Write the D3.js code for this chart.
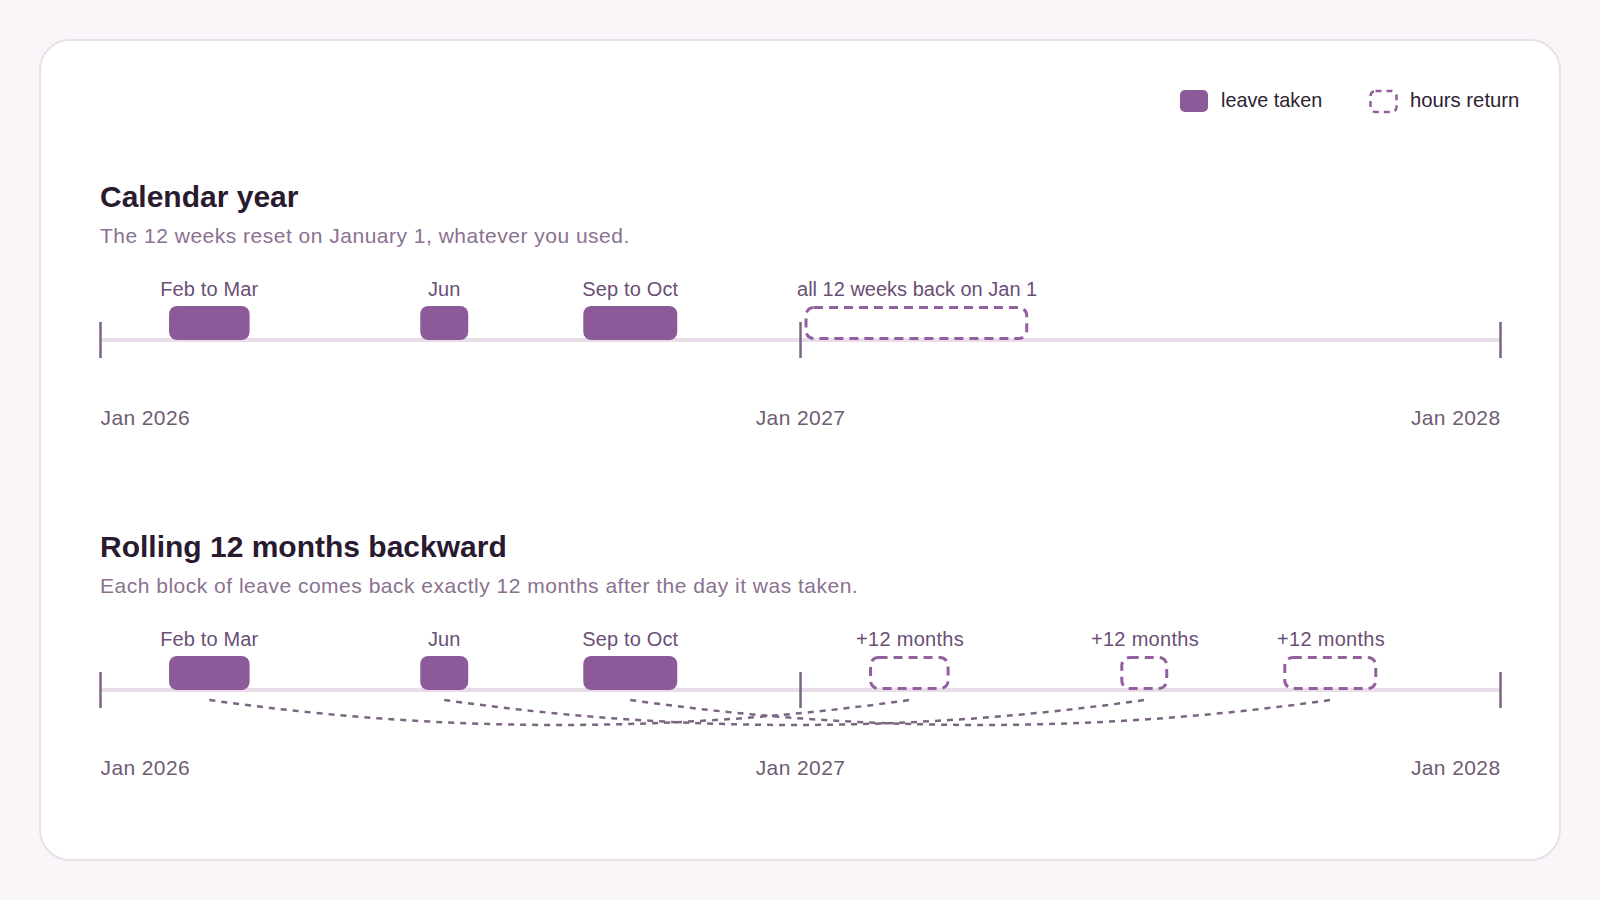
<!DOCTYPE html>
<html lang="en">
<head>
<meta charset="UTF-8">
<title>Leave return: calendar year vs rolling 12 months</title>
<script src="https://d3js.org/d3.v7.min.js"></script>
<style>
  body {
    margin: 0;
    background: #faf5f9;
    font-family: "Helvetica Neue", Helvetica, "Liberation Sans", Arial, sans-serif;
  }
  svg { display: block; }
</style>
</head>
<body>
<div id="wrapper"></div>
<script>
// ---- data ----
const leaveLabels = ["Feb to Mar", "Jun", "Sep to Oct"];
const leaveStart  = ["2026-02-06", "2026-06-17", "2026-09-10"];
const leaveEnd    = ["2026-03-20", "2026-07-12", "2026-10-29"];

const calendarReturnStart = "2027-01-01";
const calendarReturnEnd   = "2027-04-30";
const calendarReturnLabel = "all 12 weeks back on Jan 1";
const rollingReturnLabel  = "+12 months";

const axisTickDates = ["2026-01-01", "2027-01-01", "2028-01-01"];
const axisTickLabels = ["Jan 2026", "Jan 2027", "Jan 2028"];

const panelTitles = ["Calendar year", "Rolling 12 months backward"];
const panelSubtitles = [
  "The 12 weeks reset on January 1, whatever you used.",
  "Each block of leave comes back exactly 12 months after the day it was taken."
];
const legendLabels = ["leave taken", "hours return"];

// ---- look ----
const colors = {
  bar: "#8c5a99",
  dash: "#93609f",
  link: "#7a6680",
  axis: "#e8dde9",
  tick: "#7b6483",
  title: "#2a1a2f",
  subtitle: "#8a7190",
  label: "#6a4f75",
  tickLabel: "#6e5c74",
  legend: "#2e2233"
};

const parse = d3.timeParse("%Y-%m-%d");

const width = 1600, height = 900;
const panelTop = [0, 350];    // vertical offset of each panel
const axisY = 340;            // axis baseline within a panel
const barH = 34;

const svg = d3.select("#wrapper").append("svg")
  .attr("width", width)
  .attr("height", height);

// card
svg.append("rect")
  .attr("x", 40).attr("y", 40)
  .attr("width", 1520).attr("height", 820)
  .attr("rx", 30)
  .attr("fill", "#ffffff")
  .attr("stroke", "#e8e0e9")
  .attr("stroke-width", 2);

const xScale = d3.scaleTime()
  .domain([parse(axisTickDates[0]), parse(axisTickDates[axisTickDates.length - 1])])
  .range([100, 1500]);

const leaves = leaveLabels.map((label, i) => ({
  label,
  start: parse(leaveStart[i]),
  end: parse(leaveEnd[i])
}));

// legend
const legend = svg.append("g").attr("transform", "translate(1180,90)");
legend.append("rect")
  .attr("width", 28).attr("height", 22).attr("rx", 5)
  .attr("fill", colors.bar);
legend.append("text")
  .attr("x", 41).attr("y", 17)
  .attr("fill", colors.legend)
  .style("font-size", "19.8px")
  .text(legendLabels[0]);
legend.append("rect")
  .attr("x", 190.5).attr("y", 1)
  .attr("width", 26).attr("height", 21).attr("rx", 5)
  .attr("fill", "none")
  .attr("stroke", colors.dash)
  .attr("stroke-width", 2.5)
  .attr("stroke-dasharray", "6 5");
legend.append("text")
  .attr("x", 230).attr("y", 17)
  .attr("fill", colors.legend)
  .style("font-size", "20.3px")
  .text(legendLabels[1]);

function drawPanel(idx) {
  const g = svg.append("g").attr("transform", `translate(0,${panelTop[idx]})`);

  g.append("text")
    .attr("x", 100).attr("y", 207)
    .attr("fill", colors.title)
    .style("font-size", "30px")
    .style("font-weight", "700")
    .text(panelTitles[idx]);

  g.append("text")
    .attr("x", 100).attr("y", 243)
    .attr("fill", colors.subtitle)
    .style("font-size", "21px")
    .style("letter-spacing", "0.5px")
    .text(panelSubtitles[idx]);

  // baseline
  g.append("line")
    .attr("x1", xScale.range()[0]).attr("x2", xScale.range()[1])
    .attr("y1", axisY).attr("y2", axisY)
    .attr("stroke", colors.axis)
    .attr("stroke-width", 4);

  // ticks + labels
  const axisGen = d3.axisBottom(xScale)
    .tickValues(axisTickDates.map(parse))
    .tickFormat((d, i) => axisTickLabels[i])
    .tickSize(36)
    .tickPadding(52);
  const axis = g.append("g")
    .attr("transform", `translate(0,${axisY - 18})`)
    .call(axisGen);
  axis.select(".domain").remove();
  axis.selectAll(".tick line")
    .attr("stroke", colors.tick)
    .attr("stroke-width", 2.5);
  axis.selectAll(".tick text")
    .attr("fill", colors.tickLabel)
    .style("font-size", "21px")
    .style("letter-spacing", "0.4px")
    .style("font-family", "\"Helvetica Neue\", Helvetica, \"Liberation Sans\", Arial, sans-serif")
    .attr("text-anchor", (d, i) => i === 0 ? "start" : (i === axisTickDates.length - 1 ? "end" : "middle"));

  // connectors for the rolling panel (under the bars)
  if (idx === 1) {
    g.selectAll(".link")
      .data(leaves)
      .join("path")
      .attr("class", "link")
      .attr("fill", "none")
      .attr("stroke", colors.link)
      .attr("stroke-width", 2.5)
      .attr("stroke-dasharray", "6 6")
      .attr("d", d => {
        const a = (xScale(d.start) + xScale(d.end)) / 2;
        const b = (xScale(d3.timeYear.offset(d.start, 1)) + xScale(d3.timeYear.offset(d.end, 1))) / 2;
        const y0 = axisY + 10;
        return `M${a},${y0} Q${(a + b) / 2},${y0 + 50} ${b},${y0}`;
      });
  }

  // leave bars
  g.selectAll(".bar")
    .data(leaves)
    .join("rect")
    .attr("class", "bar")
    .attr("x", d => xScale(d.start))
    .attr("y", axisY - barH)
    .attr("width", d => xScale(d.end) - xScale(d.start))
    .attr("height", barH)
    .attr("rx", 8)
    .attr("fill", colors.bar);

  g.selectAll(".bar-label")
    .data(leaves)
    .join("text")
    .attr("class", "bar-label")
    .attr("x", d => (xScale(d.start) + xScale(d.end)) / 2)
    .attr("y", axisY - 44)
    .attr("text-anchor", "middle")
    .attr("fill", colors.label)
    .style("font-size", "20px")
    .style("letter-spacing", "0.15px")
    .text(d => d.label);

  // returns
  let returns;
  if (idx === 0) {
    returns = [{
      label: calendarReturnLabel,
      start: parse(calendarReturnStart),
      end: parse(calendarReturnEnd),
      inset: 6
    }];
  } else {
    returns = leaves.map(d => ({
      label: rollingReturnLabel,
      start: d3.timeYear.offset(d.start, 1),
      end: d3.timeYear.offset(d.end, 1),
      inset: 1.5
    }));
  }

  g.selectAll(".ret")
    .data(returns)
    .join("rect")
    .attr("class", "ret")
    .attr("x", d => xScale(d.start) + d.inset)
    .attr("y", axisY - barH + 1.5)
    .attr("width", d => xScale(d.end) - xScale(d.start) - d.inset - 1.5)
    .attr("height", barH - 3)
    .attr("rx", 8)
    .attr("fill", "none")
    .attr("stroke", colors.dash)
    .attr("stroke-width", 3)
    .attr("stroke-dasharray", "9 6");

  g.selectAll(".ret-label")
    .data(returns)
    .join("text")
    .attr("class", "ret-label")
    .attr("x", d => (xScale(d.start) + d.inset + xScale(d.end)) / 2)
    .attr("y", axisY - 44)
    .attr("text-anchor", "middle")
    .attr("fill", colors.label)
    .style("font-size", "20px")
    .style("letter-spacing", idx === 0 ? "0px" : "0.3px")
    .text(d => d.label);
}

drawPanel(0);
drawPanel(1);
</script>
</body>
</html>
